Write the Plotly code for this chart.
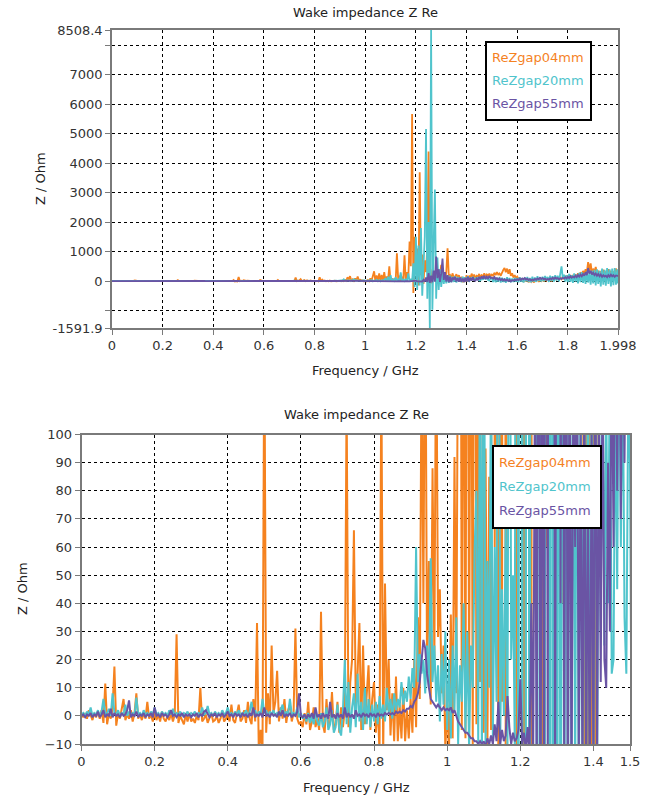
import plotly.graph_objects as go

TITLE = "Wake impedance Z Re"
X_TITLE = "Frequency / GHz"
Y_TITLE = "Z / Ohm"
SERIES_NAMES = ["ReZgap04mm", "ReZgap20mm", "ReZgap55mm"]
SERIES_COLORS = ["#F5821F", "#50C4CC", "#6A54A4"]

# sample frequencies (MHz)
FREQ_MHZ = [
    0, 5, 10, 15, 20, 25, 30, 35, 40, 45, 50, 55, 60, 65, 70, 75, 80, 85, 90, 95,
    100, 105, 110, 115, 120, 125, 130, 135, 140, 145, 150, 155, 160, 165, 170, 175, 180, 185, 190, 195,
    200, 205, 210, 215, 220, 225, 230, 235, 240, 245, 250, 255, 260, 265, 270, 275, 280, 285, 290, 295,
    300, 305, 310, 315, 320, 325, 330, 335, 340, 345, 350, 355, 360, 365, 370, 375, 380, 385, 390, 395,
    400, 405, 410, 415, 420, 425, 430, 435, 440, 445, 450, 455, 460, 465, 470, 475, 480, 485, 490, 495,
    500, 505, 510, 515, 520, 525, 530, 535, 540, 545, 550, 555, 560, 565, 570, 575, 580, 585, 590, 595,
    600, 605, 610, 615, 620, 625, 630, 635, 640, 645, 650, 655, 660, 665, 670, 675, 680, 685, 690, 695,
    700, 705, 710, 715, 720, 725, 730, 735, 740, 745, 750, 755, 760, 765, 770, 775, 780, 785, 790, 795,
    800, 805, 810, 815, 820, 825, 830, 835, 840, 845, 850, 855, 860, 865, 870, 875, 880, 885, 890, 895,
    900, 905, 910, 915, 920, 925, 930, 935, 940, 945, 950, 955, 960, 965, 970, 975, 980, 985, 990, 995,
    1000, 1005, 1010, 1015, 1020, 1025, 1030, 1035, 1040, 1045, 1050, 1055, 1060, 1065, 1070, 1075, 1080, 1085, 1090, 1095,
    1100, 1105, 1110, 1115, 1120, 1125, 1130, 1135, 1140, 1145, 1150, 1155, 1160, 1165, 1170, 1175, 1180, 1185, 1190, 1195,
    1200, 1205, 1210, 1215, 1220, 1225, 1230, 1235, 1240, 1245, 1250, 1255, 1260, 1265, 1270, 1275, 1280, 1285, 1290, 1295,
    1300, 1305, 1310, 1315, 1320, 1325, 1330, 1335, 1340, 1345, 1350, 1355, 1360, 1365, 1370, 1375, 1380, 1385, 1390, 1395,
    1400, 1405, 1410, 1415, 1420, 1425, 1430, 1435, 1440, 1445, 1450, 1455, 1460, 1465, 1470, 1475, 1480, 1485, 1490, 1495,
    1500, 1505, 1510, 1515, 1520, 1525, 1530, 1535, 1540, 1545, 1550, 1555, 1560, 1565, 1570, 1575, 1580, 1585, 1590, 1595,
    1600, 1605, 1610, 1615, 1620, 1625, 1630, 1635, 1640, 1645, 1650, 1655, 1660, 1665, 1670, 1675, 1680, 1685, 1690, 1695,
    1700, 1705, 1710, 1715, 1720, 1725, 1730, 1735, 1740, 1745, 1750, 1755, 1760, 1765, 1770, 1775, 1780, 1785, 1790, 1795,
    1800, 1805, 1810, 1815, 1820, 1825, 1830, 1835, 1840, 1845, 1850, 1855, 1860, 1865, 1870, 1875, 1880, 1885, 1890, 1895,
    1900, 1905, 1910, 1915, 1920, 1925, 1930, 1935, 1940, 1945, 1950, 1955, 1960, 1965, 1970, 1975, 1980, 1985, 1990, 1995,
    1998,
]

# Re Z (Ohm), gap 4 mm
REZ_GAP04 = [
    0.5, -0.5, 1, -1, 2, 0, -1.5, 1, -0.5, 1.5, -1, 2, -2.5, 11.5, -3, 1, -1, 3, 17.5, -3.5,
    1, -1, 2, 6, -1.5, 0.5, -1, 2, -2, 1, 8, -1, 0.5, -1.5, 1, -1, 5, -1, 0.5, -2,
    1, -1.5, 0.5, -2, 1.5, -1, -2, 0, -1.5, 1, -2, 0.5, 29, -2.5, 0, -1.5, -3, 0.5, -2, 1,
    -2, -1, -2.5, 0, -1.5, 10, -2, -1, 0.5, -2.5, -1, 1, -2, -1.5, 0, -2.5, -1, 1.5, -2, -1,
    0.5, -2, 4, -1.5, -2.5, 1, 4, -2, -1, 2, -2.5, 5, -1, -3, 6, -2, 33, -14, -5, -12,
    140, -6, 8, -3, 25, 1, 5, 16, -2, 3, -1, 6, -2.5, 2, 4, -2, 1, 31, -1, -3,
    -2, -4, 1, -3, 5, -5, -2, 3, -4, -1, -5, 37, -3, -6, 6, -4, -2, 8.5, -5, -3,
    5, -6, 3, -4, 2, 115, -4, 12, 20, 66, 4, 15, 33, -5, 25, -3, 10, 18, -5, 6,
    12, -6, 4, -13, 125, -14, 47, 2, 20, -7, 8, -9, 14, -9, 4, -8, 10, -9, 2, -8,
    6, -6, 20, -4, 35, 6, 130, 40, 165, 14, 55, 4, 88, 20, 150, 28, 45, 8, 25, -12,
    4, -13, 36, -8, 92, 8, 160, 330, -5, 190, -8, 260, 5, 210, -10, 300, -3, 150, 12, 495,
    -6, 95, -12, 85, -5, 943, 60, 180, -15, 150, 5, 875, -20, 300, 120, 1340, 500, 5657, -404, 1500,
    600, 1100, -150, 3690, 200, 900, -100, 700, 300, 1200, 4387, 150, -80, 400, 60, 250, -30, 350, 120, 200,
    550, 80, 260, 40, 300, 1111, 150, 200, 120, 260, 90, 180, 230, 110, 200, -20, 150, -40, 120, -30,
    200, -25, 180, 90, 250, 130, 220, 100, 180, 150, 240, 120, 200, 160, 260, 140, 220, 180, 250, 160,
    220, 180, 280, 200, 300, 220, 260, 180, 300, 380, 440, 300, 420, 250, 400, 180, 260, 120, 200, 100,
    150, 60, 120, 20, 90, -30, 60, -10, 80, -40, 40, -20, 70, -50, 30, 10, 60, -30, 50, 0,
    80, -20, 60, 20, 100, 30, 90, -10, 70, 40, 120, 50, 100, 30, 140, 60, 110, 80, 150, 90,
    160, 100, 200, 120, 180, 90, 220, 150, 260, 180, 300, 200, 340, 250, 400, 300, 640, 350, 600, 280,
    420, 300, 480, 260, 350, 200, 300, 250, 380, 220, 300, 240, 400, 280, 340, 200, 300, 260, 420, 300,
    350,
]

# Re Z (Ohm), gap 20 mm
REZ_GAP20 = [
    0.5, 1, 0, 1.5, 0.5, 3, 0, 1, 0.5, 2, 0, 1.5, 6, 0.5, 1, 2.5, 0, 8, 1, 0.5,
    2, 0, 1, 0.5, 4, 0, 1.5, 0.5, 1, 0, 6.5, 0.5, 1, 0, 2, 0.5, 1, 0, 1.5, 0.5,
    3, 0.5, 1, 0, 1.5, 0.5, 1, 0, 2, 0.5, 2.5, 0, 1, 0.5, 1.5, 0, 1, 0.5, 1.5, 0,
    1, 0.5, 1.5, 0, 1, 0.5, 3, 0.5, 1, 3.5, 0.5, 1, 0, 1.5, 0.5, 1, 0, 2, 0.5, 1,
    3, 0.5, 1, 0, 1.5, 0.5, 2, 0, 1, 0.5, 2, 0, 1.5, 5, 0.5, 2, 0, 1.5, 0.5, 6,
    1, 2, 0, 1.5, 0.5, 2, 0, 1, 0.5, 2, 4, 0, 1.5, 0.5, 6, 0.5, 1, 0, 3, -0.5,
    1, -1, 0.5, -2, 1, -2.5, 0, -3, 2, -2, -3.5, 1, -4, -2, 3, -5, -3, 2, -6, -4,
    4, -5, -7, 2, 20, -3, 12, -6, 3, 8, -4, 15, -2, 5, -5, 10, -3, 6, -4, 4,
    -2, 5, -3, 7, -1, 4, -2, 10, 1, 6, -1, 8, 2, 6, 3, 12, 4, 9, 5, 14,
    6, 17, 10, 60, 12, 22, 15, 20, 8, 25, 10, 56, 12, 25, 5, 18, -2, 22, 4, 30,
    -5, 20, -8, 25, 2, 35, -10, 18, 5, 40, -6, 30, -12, 25, 10, 59, 80, -10, 150, -20,
    200, -12, 55, 10, 130, -8, 60, 5, 290, -10, 45, 0, 70, -10, 260, 20, 50, -12, 600, -200,
    1500, -300, 1200, -150, 1800, -500, 900, 1500, 5151, -600, 2000, -1591.9, 8508.4, -970, 1200, 3098, -600, 800, -300, 400,
    -200, 300, -100, 250, -80, 200, -60, 180, -40, 150, -30, 160, -50, 140, -20, 120, -40, 150, -30, 130,
    -20, 160, -30, 120, 30, 140, 25, 110, 40, 130, 15, 20, 120, 45, 150, 60, 130, 35, 15, 110,
    90, -30, 120, -40, 100, -20, 140, -50, 110, -30, 90, -60, 130, -20, 100, -40, 80, -30, 110, -20,
    100, -40, 130, -20, 90, -50, 120, -10, 140, -30, 100, -40, 150, -20, 120, -30, 160, 0, 130, -20,
    150, -10, 170, 20, 140, -30, 180, 0, 160, -20, 200, 20, 180, -10, 240, 495, 100, 220, -20, 200,
    -40, 240, -30, 200, -60, 260, -20, 220, -80, 280, -40, 300, -60, 260, -100, 320, -50, 280, -120, 350,
    -80, 380, -150, 400, -100, 350, -180, 420, -120, 380, -160, 440, -100, 400, -180, 420, -140, 440, -120, 400,
    -80,
]

# Re Z (Ohm), gap 55 mm
REZ_GAP55 = [
    0, 0.5, -0.5, 0.5, 0, 1, -0.5, 0.5, 0, 1.5, -0.5, 0.5, 2, -0.5, 0.5, 0, 2.5, -0.5, 1, 0,
    0.5, -0.5, 1, 0, 0.5, 2, 5.5, -0.5, 0.5, 0, 1.5, -0.5, 0.5, 0, 1, -0.5, 0.5, 0, 1, -0.5,
    3, 0, 0.5, -0.5, 1, 0, 0.5, -0.5, 0.5, 2, 0, 0.5, -0.5, 0.5, 0, 1, -0.5, 0.5, 0, 0.5,
    -0.5, 0.5, 0, 1, -0.5, 0.5, 0, 1.5, 2, 0.5, -0.5, 0.5, 0, 1, -0.5, 0.5, 0, 1, -0.5, 0.5,
    1.5, 0, 0.5, -0.5, 1, 0, 0.5, -0.5, 1, 0, 0.5, -0.5, 1, 0, 3, -0.5, 0.5, 0, 1, -0.5,
    3, 0, 0.5, -0.5, 1, 0, 0.5, -0.5, 1.5, 0, 2, -0.5, 0.5, 0, 1, -0.5, 0.5, 0, 1.5, 8,
    0, -0.5, 0.5, -1, 0.5, -0.5, 1, -1, 3, -0.5, 0.5, -1, 1, -0.5, 0.5, -1, 5, -0.5, 0.5, -1,
    1, -0.5, 0.5, -1, 3, -0.5, 1, -0.5, 0.5, -1, 2, 0, 0.5, -0.5, 1, 0, 0.5, -0.5, 1, 0,
    0.5, -0.5, 1, 0, 0.5, 0, 1, 0.5, 1, 0.5, 1, 0.5, 1.5, 1, 1.5, 1, 2, 1.5, 2.5, 2.5,
    3.5, 3, 5, 6, 8, 12, 20, 27, 24, 15, 10, 6, 5, 4, 3, 4, 3, 2, 3, 2,
    2.5, 2, 3, 1, 2, 0, -2, -3, -4, -5, -6, -6, -7, -8, -8, -9, -9, -10, -9, -10,
    -9, -11, -8, -10, -7, -10, -3, -9, 5, -10, -5, -9, -7, 7, -4, -10, -6, -9, -8, -5,
    13, -10, -6, -12, -4, -15, 40, -20, 120, -30, 270, -60, 180, -40, 350, -20, 830, 100, 400, -30,
    250, 760, 40, 300, -20, 200, -40, 150, -30, 120, 60, 140, -15, 100, -25, 120, -20, 80, -30, 100,
    -20, 150, -15, 110, 12, 130, 20, 10, 90, 30, 140, 60, 160, 80, 180, 70, 150, 90, 170, 100,
    120, 80, 140, 60, 100, 40, 90, 30, 70, 20, 60, 10, 50, 0, 40, -10, 30, 10, 50, 20,
    60, 30, 80, 40, 90, 60, 100, 50, 80, 30, 60, 20, 50, 30, 70, 40, 90, 60, 110, 70,
    100, 60, 80, 40, 70, 50, 90, 60, 110, 70, 120, 80, 100, 60, 90, 70, 110, 80, 130, 90,
    140, 100, 160, 110, 150, 120, 180, 130, 200, 150, 220, 160, 240, 180, 300, 200, 440, 250, 350, 220,
    280, 200, 260, 180, 240, 160, 220, 140, 200, 150, 180, 130, 200, 150, 220, 160, 200, 140, 190, 160,
    170,
]

for s in (REZ_GAP04, REZ_GAP20, REZ_GAP55):
    assert len(s) == len(FREQ_MHZ), (len(s), len(FREQ_MHZ))

FREQ_GHZ = [m / 1000.0 for m in FREQ_MHZ]
SERIES = [REZ_GAP04, REZ_GAP20, REZ_GAP55]

TOP_Y_TICKS = [-1591.9, -1000, 0, 1000, 2000, 3000, 4000, 5000, 6000, 7000, 8000, 8508.4]
TOP_Y_LABELS = ["-1591.9", "", "0", "1000", "2000", "3000", "4000", "5000", "6000", "7000", "", "8508.4"]
TOP_X_TICKS = [0, 0.2, 0.4, 0.6, 0.8, 1.0, 1.2, 1.4, 1.6, 1.8, 1.998]
TOP_X_LABELS = ["0", "0.2", "0.4", "0.6", "0.8", "1", "1.2", "1.4", "1.6", "1.8", "1.998"]
BOT_Y_TICKS = [-10, 0, 10, 20, 30, 40, 50, 60, 70, 80, 90, 100]
BOT_X_TICKS = [0, 0.2, 0.4, 0.6, 0.8, 1.0, 1.2, 1.4, 1.5]
BOT_X_LABELS = ["0", "0.2", "0.4", "0.6", "0.8", "1", "1.2", "1.4", "1.5"]

W, H = 650, 799
FONT = "DejaVu Sans"


def px(x, y):
    return x / W, 1 - y / H


fig = go.Figure()
for name, color, vals in zip(SERIES_NAMES, SERIES_COLORS, SERIES):
    fig.add_trace(go.Scatter(x=FREQ_GHZ, y=vals, mode="lines", name=name,
                             line=dict(color=color, width=1.8), xaxis="x", yaxis="y",
                             showlegend=False))
for name, color, vals in zip(SERIES_NAMES, SERIES_COLORS, SERIES):
    fig.add_trace(go.Scatter(x=FREQ_GHZ, y=vals, mode="lines", name=name,
                             line=dict(color=color, width=2), xaxis="x2", yaxis="y2",
                             showlegend=False))

axis_common = dict(showline=True, linecolor="#7a7a7a", linewidth=1.5, mirror=True,
                   showgrid=True, gridcolor="#000000", gridwidth=1, griddash="3px,3px",
                   zeroline=False, ticks="outside", ticklen=5, tickcolor="#7a7a7a",
                   automargin=False,
                   tickfont=dict(family=FONT, size=13, color="#333333"))

top_x0, top_y1 = px(112, 30)
top_x1, top_y0 = px(618, 328)
bot_x0, bot_y1 = px(81.5, 434.5)
bot_x1, bot_y0 = px(630, 744)

fig.update_layout(
    template="none",
    width=W, height=H,
    margin=dict(l=0, r=0, t=0, b=0, pad=0),
    paper_bgcolor="white", plot_bgcolor="white",
    font=dict(family=FONT, size=13, color="#222222"),
    xaxis=dict(domain=[top_x0, top_x1], range=[0, 1.998], anchor="y",
               tickvals=TOP_X_TICKS, ticktext=TOP_X_LABELS, **axis_common),
    yaxis=dict(domain=[top_y0, top_y1], range=[-1591.9, 8508.4], anchor="x",
               tickvals=TOP_Y_TICKS, ticktext=TOP_Y_LABELS, **axis_common),
    xaxis2=dict(domain=[bot_x0, bot_x1], range=[0, 1.5], anchor="y2",
                tickvals=BOT_X_TICKS, ticktext=BOT_X_LABELS, **axis_common),
    yaxis2=dict(domain=[bot_y0, bot_y1], range=[-10, 100], anchor="x2",
                tickvals=BOT_Y_TICKS, **axis_common),
    showlegend=False,
)

annotations = []


def text(x, y, t, size=13, color="#222222", angle=0, xanchor="center"):
    ax, ay = px(x, y)
    annotations.append(dict(x=ax, y=ay, xref="paper", yref="paper", text=t,
                            showarrow=False, textangle=angle, xanchor=xanchor,
                            yanchor="middle",
                            font=dict(family=FONT, size=size, color=color)))


text(365, 12, TITLE)
text(356, 414, TITLE)
text(365, 370, X_TITLE)
text(356, 787, X_TITLE)
text(40, 179, Y_TITLE, angle=-90)
text(22, 589, Y_TITLE, angle=-90)

shapes = []


def box(x0, y0, x1, y1):
    a0, b0 = px(x0, y1)
    a1, b1 = px(x1, y0)
    shapes.append(dict(type="rect", xref="paper", yref="paper", x0=a0, y0=b0, x1=a1, y1=b1,
                       fillcolor="white", line=dict(color="#000000", width=2), layer="above"))


box(486, 42, 591, 120)
box(493, 446, 601, 528)
for i, (name, color) in enumerate(zip(SERIES_NAMES, SERIES_COLORS)):
    text(490, 57 + 23 * i, name, color=color, xanchor="left")
    text(497, 462 + 24 * i, name, color=color, xanchor="left")

fig.update_layout(annotations=annotations, shapes=shapes)
fig.write_html("out.html",
               config={"displayModeBar": False},
               post_script="document.body.style.margin='0px';document.body.style.padding='0px';")
